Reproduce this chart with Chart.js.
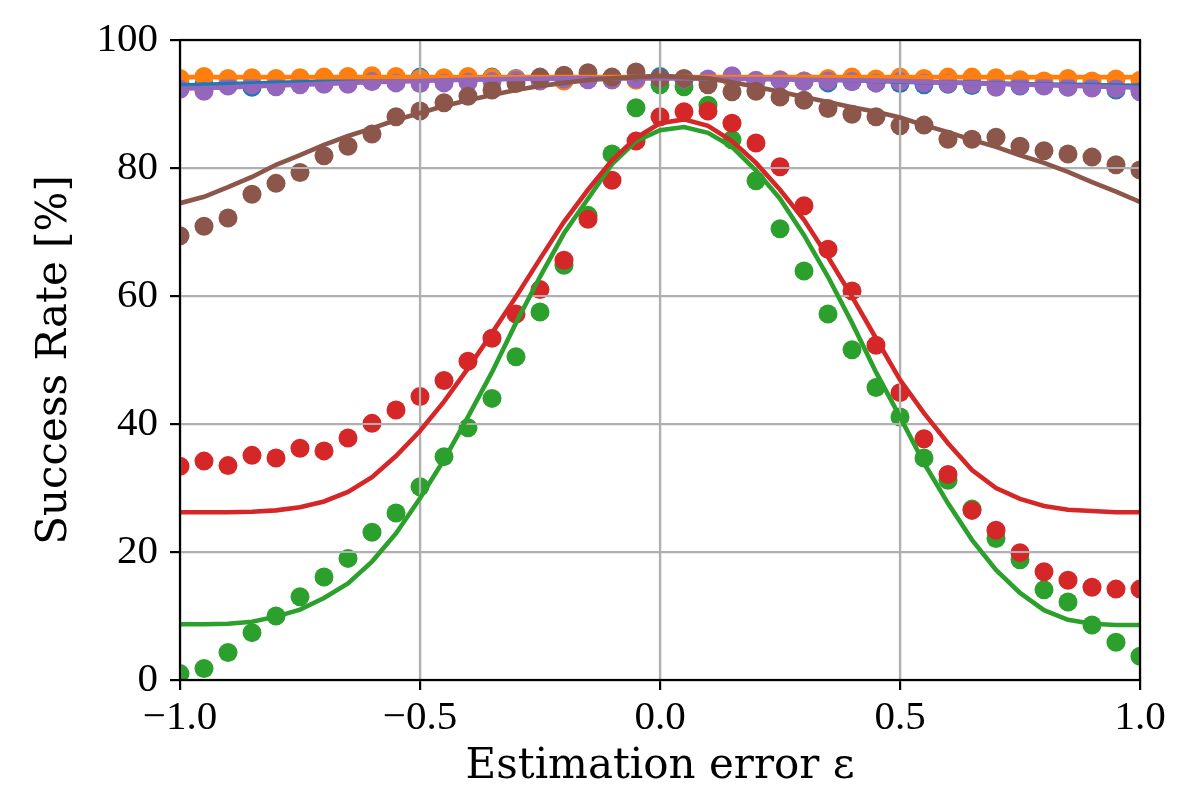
<!DOCTYPE html>
<html>
<head>
<meta charset="utf-8">
<script src="https://cdn.jsdelivr.net/npm/chart.js@4.4.0/dist/chart.umd.min.js"></script>
<style>
  html, body { margin: 0; padding: 0; background: #fff; }
  #wrap { width: 1200px; height: 800px; }
</style>
</head>
<body>
<div id="wrap"><canvas id="myChart"></canvas></div>
<script>
// estimation error values on the x axis
const epsValues = [-1.0, -0.95, -0.9, -0.85, -0.8, -0.75, -0.7, -0.65, -0.6, -0.55, -0.5, -0.45, -0.4, -0.35, -0.3, -0.25, -0.2, -0.15, -0.1, -0.05, 0.0,
  0.05, 0.1, 0.15, 0.2, 0.25, 0.3, 0.35, 0.4, 0.45, 0.5, 0.55, 0.6, 0.65, 0.7, 0.75, 0.8, 0.85, 0.9, 0.95, 1.0];

// measured success rates (dots)
const blueDots = [93.2, 93.0, 93.1, 92.6, 93.2, 93.3, 93.4, 93.5, 93.6, 93.7, 94.2, 93.6, 93.7, 94.2, 94.0, 93.9, 93.8, 94.0, 94.1, 94.0, 94.3,
  93.8, 93.7, 93.9, 93.6, 93.7, 93.6, 93.3, 93.5, 93.3, 93.2, 93.0, 93.1, 92.9, 93.2, 92.8, 92.9, 92.7, 93.0, 92.2, 92.2];
const orangeDots = [94.0, 94.3, 94.0, 94.1, 94.0, 94.1, 94.2, 94.3, 94.4, 94.3, 94.0, 94.1, 94.3, 94.1, 93.9, 94.0, 93.6, 93.9, 93.8, 93.7, 93.9,
  93.8, 93.7, 93.9, 93.5, 93.8, 93.6, 94.0, 94.2, 93.9, 94.2, 94.0, 94.2, 94.2, 94.1, 93.8, 93.6, 94.0, 93.6, 93.9, 93.7];
const greenDots = [1.0, 1.8, 4.3, 7.4, 10.0, 13.0, 16.1, 19.0, 23.1, 26.1, 30.2, 34.9, 39.4, 44.0, 50.5, 57.5, 64.8, 72.6, 82.2, 89.4, 93.0,
  92.7, 89.8, 84.4, 78.0, 70.5, 63.9, 57.2, 51.6, 45.7, 41.1, 34.7, 31.2, 26.7, 22.1, 18.8, 14.1, 12.2, 8.6, 5.9, 3.7];
const redDots = [33.4, 34.2, 33.5, 35.1, 34.7, 36.2, 35.8, 37.8, 40.1, 42.2, 44.3, 46.8, 49.8, 53.4, 57.2, 61.0, 65.6, 72.0, 78.1, 84.2, 88.0,
  88.8, 88.9, 87.0, 83.9, 80.2, 74.1, 67.3, 60.8, 52.3, 44.9, 37.7, 32.1, 26.5, 23.4, 19.9, 16.9, 15.6, 14.5, 14.2, 14.2];
const purpleDots = [92.3, 92.0, 92.8, 93.0, 92.7, 93.0, 93.1, 93.1, 93.5, 93.3, 93.2, 93.3, 93.4, 93.5, 93.7, 93.6, 93.9, 93.8, 93.8, 93.9, 94.0,
  93.9, 93.9, 94.4, 93.7, 93.7, 93.5, 93.6, 93.5, 93.3, 93.5, 93.3, 93.2, 93.1, 92.6, 92.9, 92.8, 92.6, 92.5, 92.4, 91.9];
const brownDots = [69.4, 70.9, 72.2, 75.9, 77.6, 79.3, 81.9, 83.4, 85.3, 88.0, 88.9, 90.2, 91.2, 92.2, 93.2, 94.2, 94.5, 94.9, 94.2, 95.0, 94.0,
  94.0, 93.0, 91.9, 92.0, 91.1, 90.6, 89.3, 88.4, 88.0, 86.6, 86.7, 84.5, 84.5, 84.8, 83.4, 82.7, 82.2, 81.7, 80.5, 79.7];

// model curves (lines)
const blueLine = [92.9, 93.0, 93.1, 93.2, 93.3, 93.4, 93.5, 93.6, 93.65, 93.7, 93.8, 93.85, 93.9, 93.95, 94.0, 94.0, 94.05, 94.05, 94.1, 94.1, 94.1,
  94.1, 94.05, 94.0, 94.0, 93.95, 93.9, 93.8, 93.7, 93.6, 93.5, 93.4, 93.35, 93.3, 93.2, 93.1, 93.05, 93.0, 92.95, 92.9, 92.85];
const orangeLine = [94.2, 94.2, 94.2, 94.2, 94.2, 94.2, 94.2, 94.2, 94.2, 94.2, 94.2, 94.2, 94.2, 94.2, 94.2, 94.2, 94.2, 94.2, 94.2, 94.2, 94.2,
  94.2, 94.2, 94.2, 94.2, 94.2, 94.2, 94.2, 94.2, 94.2, 94.2, 94.2, 94.2, 94.2, 94.2, 94.2, 94.2, 94.2, 94.2, 94.2, 94.2];
const greenLine = [8.7, 8.7, 8.8, 9.1, 9.9, 11.0, 12.8, 15.1, 18.5, 22.9, 28.4, 34.4, 41.1, 48.1, 55.8, 63.0, 69.8, 75.2, 80.6, 84.2, 85.9,
  86.4, 85.5, 83.3, 79.6, 75.2, 69.5, 63.0, 55.8, 48.1, 41.1, 33.9, 27.6, 21.9, 17.2, 13.6, 10.9, 9.4, 8.8, 8.6, 8.6];
const redLine = [26.2, 26.2, 26.2, 26.3, 26.5, 27.0, 27.9, 29.4, 31.7, 35.0, 38.9, 43.5, 48.7, 54.2, 59.9, 65.8, 71.6, 76.6, 81.2, 84.7, 87.0,
  87.6, 86.6, 84.2, 80.8, 76.6, 71.9, 66.1, 59.9, 53.4, 46.9, 41.7, 37.0, 32.8, 30.0, 28.3, 27.2, 26.6, 26.4, 26.2, 26.2];
const purpleLine = [92.4, 92.5, 92.6, 92.75, 92.9, 93.0, 93.15, 93.3, 93.4, 93.5, 93.6, 93.7, 93.8, 93.85, 93.9, 93.95, 94.0, 94.0, 94.0, 94.0, 94.0,
  94.0, 93.95, 93.9, 93.9, 93.85, 93.8, 93.75, 93.7, 93.65, 93.6, 93.45, 93.35, 93.25, 93.15, 93.05, 92.95, 92.85, 92.75, 92.65, 92.55];
const brownLine = [74.5, 75.5, 77.0, 78.6, 80.5, 82.0, 83.6, 85.0, 86.2, 87.5, 88.6, 89.7, 90.6, 91.4, 92.2, 92.8, 93.3, 93.75, 94.0, 94.2, 94.4,
  94.2, 94.0, 93.4, 92.7, 91.9, 91.1, 90.3, 89.5, 88.8, 87.9, 86.7, 85.6, 84.4, 83.3, 82.0, 80.8, 79.4, 77.8, 76.3, 74.7];

const xTicks = [-1.0, -0.5, 0.0, 0.5, 1.0];
const yTicks = [0, 20, 40, 60, 80, 100];

const colors = {
  blue: '#1f77b4', orange: '#ff7f0e', green: '#2ca02c',
  red: '#d62728', purple: '#9467bd', brown: '#8c564b'
};

function toPoints(ys) {
  return epsValues.map((x, i) => ({ x: x, y: ys[i] }));
}

// matplotlib draws scatter under the grid, lines above it
function dotSet(ys, color, order) {
  return {
    data: toPoints(ys), showLine: false, order: order,
    pointRadius: 9.5, pointHoverRadius: 9.5, pointBorderWidth: 0,
    pointBackgroundColor: color, backgroundColor: color, borderColor: color
  };
}

function lineSet(ys, color, order) {
  return {
    data: toPoints(ys), showLine: true, order: order,
    pointRadius: 0, pointHoverRadius: 0,
    borderColor: color, borderWidth: 4.6, backgroundColor: color, tension: 0
  };
}

const datasets = [
  dotSet(blueDots, colors.blue, 12),
  dotSet(orangeDots, colors.orange, 11),
  dotSet(greenDots, colors.green, 10),
  dotSet(redDots, colors.red, 9),
  dotSet(purpleDots, colors.purple, 8),
  dotSet(brownDots, colors.brown, 7),
  lineSet(blueLine, colors.blue, 6),
  lineSet(orangeLine, colors.orange, 5),
  lineSet(greenLine, colors.green, 4),
  lineSet(redLine, colors.red, 3),
  lineSet(purpleLine, colors.purple, 2),
  lineSet(brownLine, colors.brown, 1)
];
const lastDotIndex = 5;

const gridOverDots = {
  id: 'gridOverDots',
  afterDatasetDraw(chart, args) {
    if (args.index !== lastDotIndex) return;
    const ctx = chart.ctx;
    const area = chart.chartArea;
    const xs = chart.scales.x, ys = chart.scales.y;
    ctx.save();
    ctx.strokeStyle = '#b0b0b0';
    ctx.lineWidth = 2.2;
    ctx.beginPath();
    xTicks.forEach(v => {
      const px = xs.getPixelForValue(v);
      ctx.moveTo(px, area.top);
      ctx.lineTo(px, area.bottom);
    });
    yTicks.forEach(v => {
      const py = ys.getPixelForValue(v);
      ctx.moveTo(area.left, py);
      ctx.lineTo(area.right, py);
    });
    ctx.stroke();
    ctx.restore();
  }
};

const frame = {
  id: 'frame',
  afterDatasetsDraw(chart) {
    const ctx = chart.ctx;
    const a = chart.chartArea;
    ctx.save();
    ctx.strokeStyle = '#000';
    ctx.lineWidth = 2.2;
    ctx.strokeRect(a.left, a.top, a.right - a.left, a.bottom - a.top);
    ctx.restore();
  }
};

const tickFont = { family: '"Liberation Serif", "DejaVu Serif", serif', size: 41 };
const titleFont = { family: '"DejaVu Serif", "Liberation Serif", serif', size: 42 };

const ctx = document.getElementById('myChart').getContext('2d');
const chart = new Chart(ctx, {
  type: 'scatter',
  data: { datasets: datasets },
  plugins: [gridOverDots, frame],
  options: {
    responsive: true,
    maintainAspectRatio: false,
    animation: false,
    devicePixelRatio: 1,
    layout: { padding: { left: 30, right: 60, top: 40, bottom: 8 } },
    plugins: {
      legend: { display: false },
      tooltip: { enabled: false }
    },
    scales: {
      x: {
        type: 'linear',
        min: -1, max: 1,
        afterBuildTicks: scale => { scale.ticks = xTicks.map(v => ({ value: v })); },
        afterFit: scale => { scale.height = 112; },
        ticks: {
          color: '#000', font: tickFont, padding: 4, maxRotation: 0,
          callback: v => v.toFixed(1).replace('-', '\u2212')
        },
        grid: { color: '#b0b0b0', lineWidth: 2.2, tickColor: '#000', tickLength: 10, tickWidth: 2.2 },
        border: { display: false },
        title: { display: true, text: 'Estimation error \u03b5', color: '#000', font: titleFont, padding: 0 }
      },
      y: {
        type: 'linear',
        min: 0, max: 100,
        afterBuildTicks: scale => { scale.ticks = yTicks.map(v => ({ value: v })); },
        afterFit: scale => { scale.width = 150; },
        ticks: { color: '#000', font: tickFont, padding: 12 },
        grid: { color: '#b0b0b0', lineWidth: 2.2, tickColor: '#000', tickLength: 10, tickWidth: 2.2 },
        border: { display: false },
        title: { display: true, text: 'Success Rate [%]', color: '#000', font: titleFont, padding: 0 }
      }
    }
  }
});
</script>
</body>
</html>
